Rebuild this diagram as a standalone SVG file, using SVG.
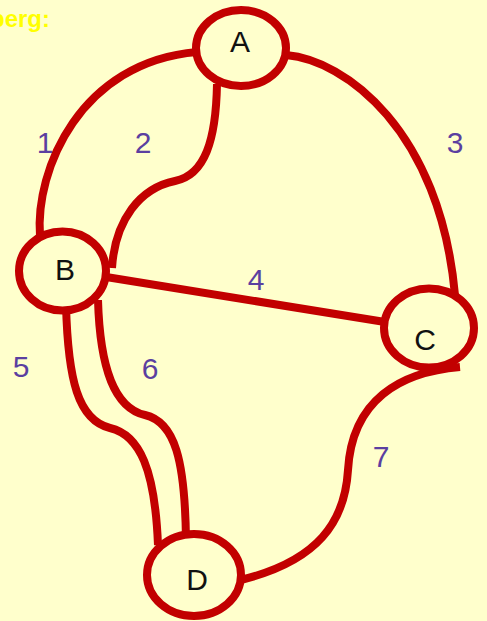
<svg xmlns="http://www.w3.org/2000/svg" width="487" height="621" viewBox="0 0 487 621">
<style>
.edge{fill:none;stroke:#C20000;stroke-width:8;stroke-linecap:butt}
.node ellipse{fill:#FFFFCC;stroke:#C20000;stroke-width:8}
.node text{font-family:"Liberation Sans",Arial,sans-serif;font-size:30px;fill:#111;text-anchor:middle}
.lbl{font-family:"Liberation Sans",Arial,sans-serif;font-size:30px;fill:#5B3FA0;text-anchor:middle}
.title{font-family:"Liberation Sans",Arial,sans-serif;font-size:24px;font-weight:bold;fill:#FFFF00}
</style>
<rect width="487" height="621" fill="#FFFFCC"/>
<text class="title" x="-10" y="27">berg:</text>
<g id="connectors">
<path class="edge" d="M 40 236 C 35 170, 80 62, 197 52"/>
<path class="edge" d="M 217 84 C 216 140, 205 175, 175 181 C 140 188, 115 220, 112 268"/>
<path class="edge" d="M 286 55 C 345 60, 440 130, 455 295"/>
<path class="edge" d="M 100 276 L 385 322"/>
<path class="edge" d="M 66 305 C 68 380, 78 420, 110 428 C 140 435, 155 470, 158 545"/>
<path class="edge" d="M 98 300 C 100 370, 115 408, 145 415 C 175 422, 185 460, 186 540"/>
<path class="edge" d="M 236 581 C 320 562, 345 520, 348 470 C 352 400, 400 372, 460 367"/>
</g>
<g id="labels">
<text class="lbl" x="45" y="153">1</text>
<text class="lbl" x="143" y="153">2</text>
<text class="lbl" x="455" y="153">3</text>
<text class="lbl" x="256" y="290">4</text>
<text class="lbl" x="21" y="377">5</text>
<text class="lbl" x="150" y="379">6</text>
<text class="lbl" x="381" y="467">7</text>
</g>
<g id="node-A" class="node"><ellipse cx="241" cy="48" rx="45" ry="38"/><text x="240" y="52">A</text></g>
<g id="node-B" class="node"><ellipse cx="62.5" cy="271" rx="43.5" ry="39.5"/><text x="65" y="280">B</text></g>
<g id="node-C" class="node"><ellipse cx="429" cy="328" rx="45" ry="39.5"/><text x="425" y="350">C</text></g>
<g id="node-D" class="node"><ellipse cx="194" cy="575" rx="47" ry="41"/><text x="197" y="590">D</text></g>
</svg>
